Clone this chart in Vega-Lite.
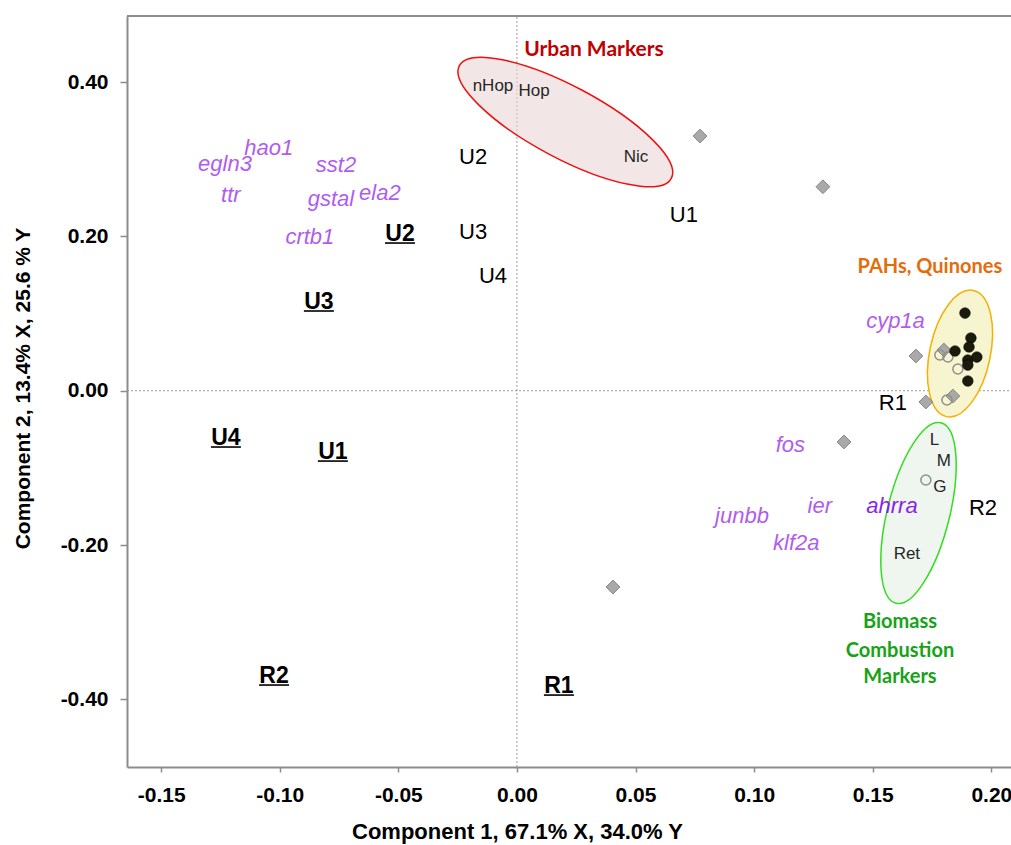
{
  "$schema": "https://vega.github.io/schema/vega-lite/v6.json",
  "width": 884,
  "height": 751,
  "autosize": {"type": "none"},
  "padding": {"left": 127, "top": 16, "right": 0, "bottom": 78},
  "background": "white",
  "config": {"view": {"stroke": null}, "font": "Liberation Sans"},
  "datasets": {
    "points": [
      {"type": "diamond", "x": 0.0772, "y": 0.3301},
      {"type": "diamond", "x": 0.1290, "y": 0.2644},
      {"type": "diamond", "x": 0.0405, "y": -0.2544},
      {"type": "diamond", "x": 0.1379, "y": -0.0664},
      {"type": "diamond", "x": 0.1682, "y": 0.0450},
      {"type": "diamond", "x": 0.1724, "y": -0.0146},
      {"type": "diamond", "x": 0.1800, "y": 0.0528},
      {"type": "diamond", "x": 0.1838, "y": -0.0069},
      {"type": "open", "x": 0.1783, "y": 0.0463},
      {"type": "open", "x": 0.1817, "y": 0.0437},
      {"type": "open", "x": 0.1859, "y": 0.0281},
      {"type": "open", "x": 0.1813, "y": -0.0120},
      {"type": "open", "x": 0.1724, "y": -0.1157},
      {"type": "dot", "x": 0.1889, "y": 0.1007},
      {"type": "dot", "x": 0.1914, "y": 0.0683},
      {"type": "dot", "x": 0.1906, "y": 0.0567},
      {"type": "dot", "x": 0.1847, "y": 0.0515},
      {"type": "dot", "x": 0.1901, "y": 0.0398},
      {"type": "dot", "x": 0.1939, "y": 0.0437},
      {"type": "dot", "x": 0.1901, "y": 0.0333},
      {"type": "dot", "x": 0.1901, "y": 0.0126}
    ],
    "groups": [
      {"group": "Urban", "x": 0.0204, "y": 0.3483},
      {"group": "PAH", "x": 0.1868, "y": 0.0482},
      {"group": "Biomass", "x": 0.1693, "y": -0.1585}
    ],
    "groupTitles": [
      {"group": "Urban", "label": "Urban Markers", "x": 0.0325, "y": 0.4416},
      {"group": "PAH", "label": "PAHs, Quinones", "x": 0.1741, "y": 0.1603},
      {"group": "Biomass", "label": "Biomass", "x": 0.1615, "y": -0.2998},
      {"group": "Biomass", "label": "Combustion", "x": 0.1615, "y": -0.3376},
      {"group": "Biomass", "label": "Markers", "x": 0.1615, "y": -0.3711}
    ],
    "compounds": [
      {"label": "nHop", "x": -0.0101, "y": 0.3949},
      {"label": "Hop", "x": 0.0072, "y": 0.3885},
      {"label": "Nic", "x": 0.0502, "y": 0.3031},
      {"label": "L", "x": 0.1760, "y": -0.0639},
      {"label": "M", "x": 0.1800, "y": -0.0911},
      {"label": "G", "x": 0.1783, "y": -0.1248},
      {"label": "Ret", "x": 0.1644, "y": -0.2117}
    ],
    "genes": [
      {"label": "hao1", "tone": "light", "x": -0.1046, "y": 0.3146},
      {"label": "egln3", "tone": "light", "x": -0.1231, "y": 0.2938},
      {"label": "ttr", "tone": "light", "x": -0.1206, "y": 0.2537},
      {"label": "sst2", "tone": "light", "x": -0.0763, "y": 0.2925},
      {"label": "gstal", "tone": "light", "x": -0.0784, "y": 0.2485},
      {"label": "ela2", "tone": "light", "x": -0.0578, "y": 0.2563},
      {"label": "crtb1", "tone": "light", "x": -0.0873, "y": 0.1992},
      {"label": "cyp1a", "tone": "light", "x": 0.1596, "y": 0.0903},
      {"label": "fos", "tone": "light", "x": 0.1153, "y": -0.0704},
      {"label": "ier", "tone": "light", "x": 0.1277, "y": -0.1494},
      {"label": "junbb", "tone": "light", "x": 0.0949, "y": -0.1626},
      {"label": "klf2a", "tone": "light", "x": 0.1178, "y": -0.1974},
      {"label": "ahrra", "tone": "dark", "x": 0.1581, "y": -0.1494}
    ],
    "samples": [
      {"label": "U2", "x": -0.0185, "y": 0.3029},
      {"label": "U3", "x": -0.0185, "y": 0.2057},
      {"label": "U4", "x": -0.0101, "y": 0.1487},
      {"label": "U1", "x": 0.0704, "y": 0.2277},
      {"label": "R1", "x": 0.1585, "y": -0.0159},
      {"label": "R2", "x": 0.1965, "y": -0.1520}
    ],
    "samplesBold": [
      {"label": "U2", "x": -0.0493, "y": 0.2031},
      {"label": "U3", "x": -0.0835, "y": 0.1150},
      {"label": "U4", "x": -0.1227, "y": -0.0613},
      {"label": "U1", "x": -0.0776, "y": -0.0795},
      {"label": "R2", "x": -0.1024, "y": -0.3698},
      {"label": "R1", "x": 0.0177, "y": -0.3828}
    ]
  },
  "encoding": {
    "x": {
      "field": "x", "type": "quantitative",
      "scale": {"domain": [-0.1644, 0.2083], "nice": false, "zero": false},
      "axis": {
        "values": [-0.15, -0.1, -0.05, 0, 0.05, 0.1, 0.15, 0.2],
        "labelExpr": "datum.value < 0 ? '-' + format(-datum.value, '.2f') : format(datum.value, '.2f')",
        "title": "Component 1, 67.1% X, 34.0% Y",
        "grid": false,
        "domainColor": "#8c8c8c", "domainWidth": 2,
        "tickColor": "#8c8c8c", "tickWidth": 1.5, "tickSize": 5,
        "labelFont": "Liberation Sans", "labelFontWeight": "bold", "labelFontSize": 21, "labelColor": "#000000", "labelPadding": 12,
        "labelFlush": false, "labelOverlap": false,
        "titleFont": "Liberation Sans", "titleFontWeight": "bold", "titleFontSize": 22, "titleColor": "#000000",
        "titleX": 390, "titleY": 54, "titleBaseline": "top", "titleAlign": "center"
      }
    },
    "y": {
      "field": "y", "type": "quantitative",
      "scale": {"domain": [-0.4877, 0.4857], "nice": false, "zero": false},
      "axis": {
        "values": [-0.4, -0.2, 0, 0.2, 0.4],
        "labelExpr": "datum.value < 0 ? '-' + format(-datum.value, '.2f') : format(datum.value, '.2f')",
        "title": "Component 2, 13.4% X, 25.6 % Y",
        "grid": false,
        "domainColor": "#8c8c8c", "domainWidth": 2,
        "tickColor": "#8c8c8c", "tickWidth": 1.5, "tickSize": 7,
        "labelFont": "Liberation Sans", "labelFontWeight": "bold", "labelFontSize": 21, "labelColor": "#000000", "labelPadding": 12,
        "labelFlush": false, "labelOverlap": false,
        "titleFont": "Liberation Sans", "titleFontWeight": "bold", "titleFontSize": 21, "titleColor": "#000000",
        "titleX": -98, "titleY": 372, "titleBaseline": "alphabetic", "titleAngle": -90, "titleAlign": "center"
      }
    }
  },
  "layer": [
    {
      "data": {"values": [{"x": 0, "y": -0.4877, "y2": 0.4857}]},
      "mark": {"type": "rule", "color": "#9a9a9a", "strokeDash": [2, 2], "strokeWidth": 1},
      "encoding": {"y2": {"field": "y2"}}
    },
    {
      "data": {"values": [{"x": -0.1644, "x2": 0.2083, "y": 0}]},
      "mark": {"type": "rule", "color": "#9a9a9a", "strokeDash": [2, 2], "strokeWidth": 1},
      "encoding": {"x2": {"field": "x2"}}
    },
    {
      "data": {"values": [{"x": -0.1644, "x2": 0.2083, "y": 0.4857}]},
      "mark": {"type": "rule", "color": "#8c8c8c", "strokeWidth": 2},
      "encoding": {"x2": {"field": "x2"}}
    },
    {
      "data": {"name": "groups"},
      "transform": [{"filter": "datum.group === 'Urban'"}],
      "mark": {"type": "point", "shape": "M1,0C1,0.1657 0.5523,0.3 0,0.3C-0.5523,0.3 -1,0.1657 -1,0C-1,-0.1657 -0.5523,-0.3 0,-0.3C0.5523,-0.3 1,-0.1657 1,0Z", "size": 57600, "angle": 28, "filled": true, "fill": "#e9d5d5", "fillOpacity": 0.6, "stroke": "#ee1111", "strokeWidth": 1.5, "opacity": 1},
      "encoding": {}
    },
    {
      "data": {"name": "groups"},
      "transform": [{"filter": "datum.group === 'PAH'"}],
      "mark": {"type": "point", "shape": "M1,0C1,0.2596 0.5523,0.47 0,0.47C-0.5523,0.47 -1,0.2596 -1,0C-1,-0.2596 -0.5523,-0.47 0,-0.47C0.5523,-0.47 1,-0.2596 1,0Z", "size": 16641, "angle": -78, "filled": true, "fill": "#f7f5d0", "stroke": "#f5b000", "strokeWidth": 1.5, "opacity": 1},
      "encoding": {}
    },
    {
      "data": {"name": "groups"},
      "transform": [{"filter": "datum.group === 'Biomass'"}],
      "mark": {"type": "point", "shape": "M1,0C1,0.185 0.5523,0.335 0,0.335C-0.5523,0.335 -1,0.185 -1,0C-1,-0.185 -0.5523,-0.335 0,-0.335C0.5523,-0.335 1,-0.185 1,0Z", "size": 34596, "angle": -76, "filled": true, "fill": "#eff6ef", "stroke": "#33dd22", "strokeWidth": 1.5, "opacity": 1},
      "encoding": {}
    },
    {
      "data": {"name": "points"},
      "transform": [{"filter": "datum.type === 'diamond'"}],
      "mark": {"type": "point", "shape": "diamond", "filled": true, "size": 190, "fill": "#a0a0a0", "stroke": "#7a7a7a", "strokeWidth": 1, "opacity": 0.9},
      "encoding": {}
    },
    {
      "data": {"name": "points"},
      "transform": [{"filter": "datum.type === 'open'"}],
      "mark": {"type": "point", "shape": "circle", "filled": false, "size": 100, "stroke": "#8f8f8f", "strokeWidth": 1.5, "opacity": 1},
      "encoding": {}
    },
    {
      "data": {"name": "points"},
      "transform": [{"filter": "datum.type === 'dot'"}],
      "mark": {"type": "point", "shape": "circle", "filled": true, "size": 115, "fill": "#1b1b0c", "stroke": "#000000", "strokeWidth": 0.5, "opacity": 1},
      "encoding": {}
    },
    {
      "data": {"name": "compounds"},
      "mark": {"type": "text", "font": "Liberation Sans", "fontSize": 17, "color": "#262626"},
      "encoding": {"text": {"field": "label"}}
    },
    {
      "data": {"name": "genes"},
      "transform": [{"filter": "datum.tone === 'light'"}],
      "mark": {"type": "text", "font": "Liberation Sans", "fontSize": 22, "fontStyle": "italic", "color": "#b05cf0"},
      "encoding": {"text": {"field": "label"}}
    },
    {
      "data": {"name": "genes"},
      "transform": [{"filter": "datum.tone === 'dark'"}],
      "mark": {"type": "text", "font": "Liberation Sans", "fontSize": 22, "fontStyle": "italic", "color": "#8a22e6"},
      "encoding": {"text": {"field": "label"}}
    },
    {
      "data": {"name": "samples"},
      "mark": {"type": "text", "font": "Liberation Sans", "fontSize": 22, "color": "#000000"},
      "encoding": {"text": {"field": "label"}}
    },
    {
      "data": {"name": "samplesBold"},
      "mark": {"type": "text", "font": "Liberation Sans", "fontSize": 23, "fontWeight": "bold", "color": "#000000"},
      "encoding": {"text": {"field": "label"}}
    },
    {
      "data": {"name": "samplesBold"},
      "mark": {"type": "point", "shape": "M-1,0L1,0", "filled": false, "size": 900, "stroke": "#000000", "strokeWidth": 1.6, "yOffset": 9, "opacity": 1},
      "encoding": {}
    },
    {
      "data": {"name": "groupTitles"},
      "transform": [{"filter": "datum.group === 'Urban'"}],
      "mark": {"type": "text", "font": "Lato", "fontSize": 21, "fontWeight": "bold", "color": "#c00000"},
      "encoding": {"text": {"field": "label"}}
    },
    {
      "data": {"name": "groupTitles"},
      "transform": [{"filter": "datum.group === 'PAH'"}],
      "mark": {"type": "text", "font": "Lato", "fontSize": 20, "fontWeight": "bold", "color": "#e46c0a"},
      "encoding": {"text": {"field": "label"}}
    },
    {
      "data": {"name": "groupTitles"},
      "transform": [{"filter": "datum.group === 'Biomass'"}],
      "mark": {"type": "text", "font": "Lato", "fontSize": 20, "fontWeight": "bold", "color": "#17a317"},
      "encoding": {"text": {"field": "label"}}
    }
  ]
}
